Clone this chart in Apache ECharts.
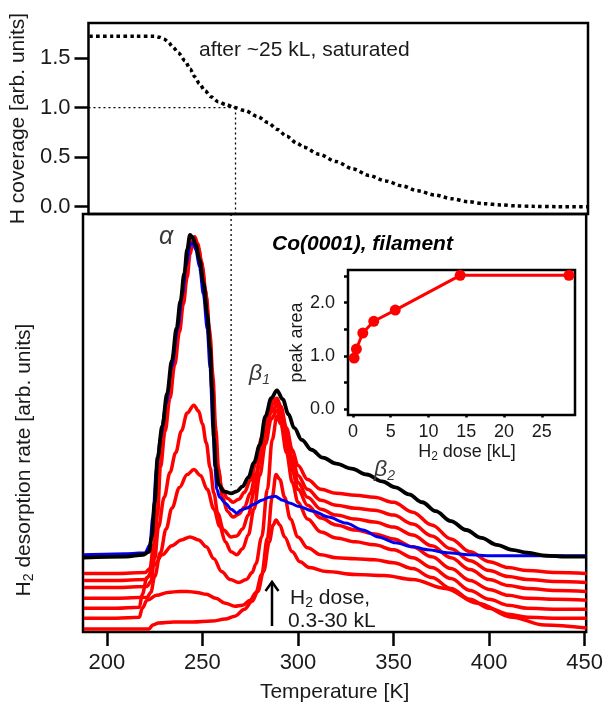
<!DOCTYPE html>
<html><head><meta charset="utf-8">
<script src="https://cdn.jsdelivr.net/npm/echarts@6/dist/echarts.min.js"></script>
<style>html,body{margin:0;padding:0;background:#fff}#c{width:606px;height:708px}</style>
</head><body><div id="c"></div>
<script>
// ---- top panel: H coverage vs temperature ----
const coverage = [[188,1.72],[200,1.72],[212,1.72],[222,1.72],[225,1.71],[227.5,1.69],[229.6,1.66],[232,1.61],[235,1.55],[238.5,1.47],[241,1.39],[243.6,1.31],[246,1.24],[248.9,1.17],[252,1.11],[255.8,1.06],[260,1.03],[264.5,1.0],[270,0.97],[276.6,0.91],[282,0.85],[287,0.78],[292,0.71],[297.4,0.64],[301,0.6],[309,0.53],[318,0.455],[327,0.38],[335.4,0.315],[344,0.26],[352.8,0.21],[361,0.16],[370,0.118],[379,0.08],[387.5,0.05],[396,0.03],[405,0.017],[413,0.008],[422,0.003],[435,0],[451,0]];
const guideTopH = [[187.5,1],[265,1]];
const guideTopV = [[265,1],[265,-0.08]];
const guideBottomV = [[265,422],[265,148]];

// ---- bottom panel: H2 desorption spectra (arb. units, offset) ----
const black = [[188,75],[210,76],[219,78],[222,81],[223.5,96],[225,131],[226.5,176],[229,208],[231.5,241],[234,274],[236.5,307],[238.5,334],[240.5,362],[242,386],[243.5,401],[245,398],[246.5,391],[248.5,376],[250.5,353],[252.5,321],[254,286],[255,246],[256,196],[257,166],[258.5,149],[261,142],[265,140],[268,142],[271,147],[274,156],[277,171],[280,189],[283,218],[286,236],[289,244],[292,235],[295,220],[298,206],[302,194],[307,184],[313,176],[320,170],[328,165],[336,159],[344,152],[351,146],[358,139],[365,131],[372,122],[380,112],[388,103],[396,95],[404,88],[412,83],[420,80],[430,77],[440,76],[451,76]];
const blue = [[188,78],[210,79],[220,80],[222.5,88],[224,116],[226,166],[228,196],[231,231],[234,268],[237,306],[239.5,340],[241.5,371],[243.5,391],[245,393],[246.5,386],[248.5,368],[250.5,341],[252.5,306],[254,266],[255.5,206],[256.5,166],[257.5,144],[259,136],[262,130],[265,124],[268,120],[270,123],[273,125],[277,129],[281,133],[285,136],[288,137],[292,133],[296,130],[300,127],[308,122],[316,116],[325,110],[334,103],[342,96],[351,90],[360,86],[368,83],[378,80],[390,78],[400,77],[420,77],[451,77]];
const red1 = [[188,3],[205,3],[222,3],[224,7],[227,9],[235,10],[245,10],[255,11],[262,13],[267,16],[272,23],[276,31],[279,41],[282,61],[285,91],[287,108],[288.5,113],[290.5,108],[293,96],[297,81],[301,71],[306,65],[315,61],[330,58],[345,57],[360,53],[377,44],[394,29],[412,15],[429,7],[451,4]];
const red2 = [[188,14],[205,14],[217,15],[218.5,24],[221,32],[226,37],[232,40],[238,41],[242,41],[247,40],[252,38],[257,34],[262,29],[267,26],[271,27],[275,32],[278,40],[281,58],[284,95],[286.5,136],[288.5,159],[290.5,154],[293,136],[296,114],[300,96],[305,85],[312,78],[320,75],[330,74],[340,73],[350,70],[360,64],[370,55],[380,44],[390,33],[400,24],[410,18],[420,15],[435,14],[451,14]];
const red3 = [[188,24],[205,24],[217,25],[218.5,38],[221,55],[225,68],[229,78],[234,87],[239,93],[243.5,96],[248,93],[252,86],[256,74],[260,61],[264.5,53],[269,50],[273,53],[276,60],[278,69],[281,96],[284,144],[286.5,194],[289,218],[291,210],[294,181],[297,151],[300,131],[305,114],[312,101],[320,95],[330,91],[340,88],[350,83],[360,75],[370,65],[380,54],[390,42],[400,33],[410,27],[420,24],[435,23],[451,23]];
const red4 = [[188,34],[205,34],[221,35],[223,40],[225,56],[228,80],[231,104],[234,125],[238,146],[242,159],[245.5,164],[249,158],[252.5,144],[256,124],[259,107],[262,91],[265,81],[268,78],[271,84],[274,98],[277,124],[280,158],[283,190],[286,215],[289,224],[291,216],[294,190],[297,163],[300,144],[305,128],[312,115],[320,108],[330,103],[340,99],[350,94],[360,86],[370,76],[380,64],[390,52],[400,43],[410,37],[420,34],[435,33],[451,32]];
const red5 = [[188,45],[205,45],[221,46],[223,51],[225,74],[227,106],[230,136],[233,161],[236,181],[239,203],[242,221],[245.5,229],[248,223],[250,210],[252,191],[254,166],[256,140],[258,120],[261,103],[265,96],[268,97],[271,104],[274,118],[277,141],[280,171],[283,201],[286,222],[289,229],[291,221],[294,196],[297,170],[300,151],[305,136],[312,124],[320,118],[330,114],[340,111],[350,106],[360,98],[370,87],[380,75],[390,63],[400,53],[410,47],[420,44],[435,42],[451,41]];
const red6 = [[188,52],[205,52],[220,53],[222.5,57],[224.5,80],[226.5,118],[228,166],[230.5,203],[233,236],[235.5,270],[238,303],[240,331],[242,358],[243.5,381],[245,394],[246.5,395],[248,387],[250,368],[252,339],[254,299],[255.5,256],[257,204],[258.5,163],[260.5,136],[263,122],[266,116],[269,119],[272,126],[275,140],[278,160],[281,188],[284,215],[287,230],[289,233],[291,224],[294,200],[297,176],[300,158],[305,144],[312,133],[320,128],[330,125],[340,123],[350,118],[360,109],[370,97],[380,84],[390,72],[400,62],[410,56],[420,53],[435,51],[451,50]];
const red7 = [[188,59],[205,59],[220,60],[222.5,64],[224.5,88],[226.5,126],[227.5,174],[230,208],[232.5,241],[235,274],[237.5,307],[239.5,334],[241.5,362],[243,386],[244.5,398],[246,399],[247.5,392],[249.5,374],[251.5,346],[253.5,308],[255,266],[256.5,211],[258,168],[260,146],[263,135],[266,131],[269,134],[272,141],[275,153],[278,171],[281,196],[284,221],[287,234],[289,236],[291,228],[294,206],[297,184],[300,168],[305,154],[312,144],[320,140],[330,138],[340,136],[350,131],[360,121],[370,108],[380,94],[390,81],[400,71],[410,65],[420,62],[435,60],[451,59]];
const redCurves = [red1, red2, red3, red4, red5, red6, red7];

// ---- inset: peak area vs H2 dose ----
const dose = [0.15, 0.45, 1.3, 2.75, 5.6, 14.2, 28.6];
const peakArea = [0.96, 1.13, 1.43, 1.65, 1.86, 2.51, 2.51];

const xTicks = [200, 250, 300, 350, 400, 450];
const covTicks = [0, 0.5, 1.0, 1.5];
const insetXTicks = [0, 5, 10, 15, 20, 25];
const insetYTicks = [0, 0.5, 1.0, 1.5, 2.0, 2.5];
const insetYLabels = [0, 1.0, 2.0];

const FONT = '"Liberation Sans", Arial, Helvetica, sans-serif';
const chart = echarts.init(document.getElementById('c'), null, {renderer: 'canvas'});

const tickStyle = {color: '#000', width: 2.5};
const series = [];
series.push({type: 'line', xAxisIndex: 0, yAxisIndex: 0, data: coverage, symbol: 'none', smooth: 0.3, smoothMonotone: 'x',
  lineStyle: {color: '#000', width: 3.5, type: [3.5, 3.3], cap: 'butt'}, z: 3});
series.push({type: 'line', xAxisIndex: 0, yAxisIndex: 0, data: guideTopH, symbol: 'none', lineStyle: {color: '#000', width: 1.3, type: [2, 3]}, z: 2});
series.push({type: 'line', xAxisIndex: 0, yAxisIndex: 0, data: guideTopV, symbol: 'none', lineStyle: {color: '#000', width: 1.3, type: [2, 3]}, z: 2});
series.push({type: 'line', xAxisIndex: 1, yAxisIndex: 1, data: guideBottomV, symbol: 'none', lineStyle: {color: '#000', width: 1.3, type: [2, 3]}, z: 2});
redCurves.forEach(function (d) {
  series.push({type: 'line', xAxisIndex: 1, yAxisIndex: 1, data: d, symbol: 'none', smooth: 0.35, smoothMonotone: 'x',
    lineStyle: {color: '#ff0000', width: 3.5}, z: 3});
});
series.push({type: 'line', xAxisIndex: 1, yAxisIndex: 1, data: blue, symbol: 'none', smooth: 0.3, smoothMonotone: 'x',
  lineStyle: {color: '#0000ee', width: 3}, z: 4});
series.push({type: 'line', xAxisIndex: 1, yAxisIndex: 1, data: black, symbol: 'none', smooth: 0.35, smoothMonotone: 'x',
  lineStyle: {color: '#000', width: 3.8}, z: 5});
series.push({type: 'line', xAxisIndex: 2, yAxisIndex: 2, data: dose.map(function (d, i) { return [d, peakArea[i]]; }),
  symbol: 'circle', symbolSize: 11, itemStyle: {color: '#ff0000'}, lineStyle: {color: '#ff0000', width: 3}, z: 6});

chart.setOption({
  animation: false,
  backgroundColor: '#fff',
  textStyle: {fontFamily: FONT},
  grid: [
    {left: 83, top: 23, width: 505, height: 191, show: true, borderColor: '#000', borderWidth: 2.5, backgroundColor: 'transparent'},
    {left: 83, top: 214, width: 505, height: 422, show: true, borderColor: '#000', borderWidth: 2.5, backgroundColor: 'transparent'},
    {left: 348, top: 270, width: 227, height: 145, show: true, borderColor: '#000', borderWidth: 2.5, backgroundColor: '#fff', z: 4}
  ],
  xAxis: [
    {gridIndex: 0, type: 'value', min: 187.5, max: 450.8, axisLine: {show: false}, axisTick: {show: false}, axisLabel: {show: false}, splitLine: {show: false}},
    {gridIndex: 1, type: 'value', min: 187.5, max: 450.8, axisLine: {show: false},
      axisTick: {show: true, inside: false, length: 14, lineStyle: tickStyle, customValues: xTicks},
      axisLabel: {show: true, customValues: xTicks, fontSize: 22, color: '#1a1a1a', margin: 20},
      splitLine: {show: false},
      name: 'Temperature [K]', nameLocation: 'middle', nameGap: 50, nameTextStyle: {fontSize: 21, color: '#1a1a1a'}},
    {gridIndex: 2, type: 'value', min: -0.66, max: 29.4, axisLine: {show: false},
      axisTick: {show: true, inside: false, length: 8, lineStyle: tickStyle, customValues: insetXTicks},
      axisLabel: {show: true, customValues: insetXTicks, fontSize: 18, color: '#1a1a1a', margin: 8},
      splitLine: {show: false}}
  ],
  yAxis: [
    {gridIndex: 0, type: 'value', min: -0.074, max: 1.854, axisLine: {show: false},
      axisTick: {show: true, inside: false, length: 14, lineStyle: tickStyle, customValues: covTicks},
      axisLabel: {show: true, customValues: covTicks, fontSize: 22, color: '#1a1a1a', margin: 18, formatter: function (v) { return v.toFixed(1); }},
      splitLine: {show: false},
      name: 'H coverage [arb. units]', nameLocation: 'middle', nameGap: 48, nameTextStyle: {fontSize: 21, color: '#1a1a1a'}},
    {gridIndex: 1, type: 'value', min: 0, max: 422, axisLine: {show: false}, axisTick: {show: false}, axisLabel: {show: false}, splitLine: {show: false}},
    {gridIndex: 2, type: 'value', min: -0.105, max: 2.61, axisLine: {show: false},
      axisTick: {show: true, inside: false, length: 9, lineStyle: tickStyle, customValues: insetYTicks},
      axisLabel: {show: true, customValues: insetYLabels, fontSize: 18, color: '#1a1a1a', margin: 13, formatter: function (v) { return v.toFixed(1); }},
      splitLine: {show: false},
      name: 'peak area', nameLocation: 'middle', nameGap: 33, nameTextStyle: {fontSize: 18, color: '#1a1a1a'}}
  ],
  series: series,
  graphic: [
    {type: 'text', x: 199, y: 50, style: {text: 'after ~25 kL, saturated', font: '21px ' + FONT, fill: '#1a1a1a', align: 'left', verticalAlign: 'middle'}, z: 10},
    {type: 'text', x: 272, y: 244, style: {text: 'Co(0001), filament', font: 'italic bold 21px ' + FONT, fill: '#000', align: 'left', verticalAlign: 'middle'}, z: 10},
    {type: 'text', x: 159, y: 237, style: {text: 'α', font: 'italic 25px ' + FONT, fill: '#3a3a3a', align: 'left', verticalAlign: 'middle'}, z: 10},
    {type: 'text', x: 249, y: 374, style: {text: '{b|β}{s|1}', align: 'left', verticalAlign: 'middle',
      rich: {b: {font: 'italic 23px ' + FONT, fill: '#3a3a3a'}, s: {font: 'italic 14px ' + FONT, fill: '#3a3a3a', padding: [12, 0, 0, 0]}}}, z: 10},
    {type: 'text', x: 374, y: 470, style: {text: '{b|β}{s|2}', align: 'left', verticalAlign: 'middle',
      rich: {b: {font: 'italic 23px ' + FONT, fill: '#3a3a3a'}, s: {font: 'italic 14px ' + FONT, fill: '#3a3a3a', padding: [12, 0, 0, 0]}}}, z: 10},
    {type: 'text', x: 467, y: 452, style: {text: '{n|H}{s|2}{n| dose [kL]}', align: 'center', verticalAlign: 'middle',
      rich: {n: {font: '18px ' + FONT, fill: '#1a1a1a'}, s: {font: '12px ' + FONT, fill: '#1a1a1a', padding: [9, 0, 0, 0]}}}, z: 10},
    {type: 'text', x: 290, y: 598, style: {text: '{n|H}{s|2}{n| dose,}', align: 'left', verticalAlign: 'middle',
      rich: {n: {font: '21px ' + FONT, fill: '#1a1a1a'}, s: {font: '14px ' + FONT, fill: '#1a1a1a', padding: [10, 0, 0, 0]}}}, z: 10},
    {type: 'text', x: 288, y: 621, style: {text: '0.3-30 kL', font: '21px ' + FONT, fill: '#1a1a1a', align: 'left', verticalAlign: 'middle'}, z: 10},
    {type: 'line', shape: {x1: 272, y1: 626, x2: 272, y2: 583}, style: {stroke: '#000', lineWidth: 2.5}, z: 10},
    {type: 'polyline', shape: {points: [[265.5, 591], [272, 582], [278.5, 591]]}, style: {stroke: '#000', lineWidth: 2.5, fill: null}, z: 10},
    {type: 'text', x: 24, y: 460, rotation: Math.PI / 2, style: {text: '{n|H}{s|2}{n| desorption rate [arb. units]}', align: 'center', verticalAlign: 'middle',
      rich: {n: {font: '21px ' + FONT, fill: '#1a1a1a'}, s: {font: '14px ' + FONT, fill: '#1a1a1a', padding: [10, 0, 0, 0]}}}, z: 10}
  ]
});
</script>
</body></html>
